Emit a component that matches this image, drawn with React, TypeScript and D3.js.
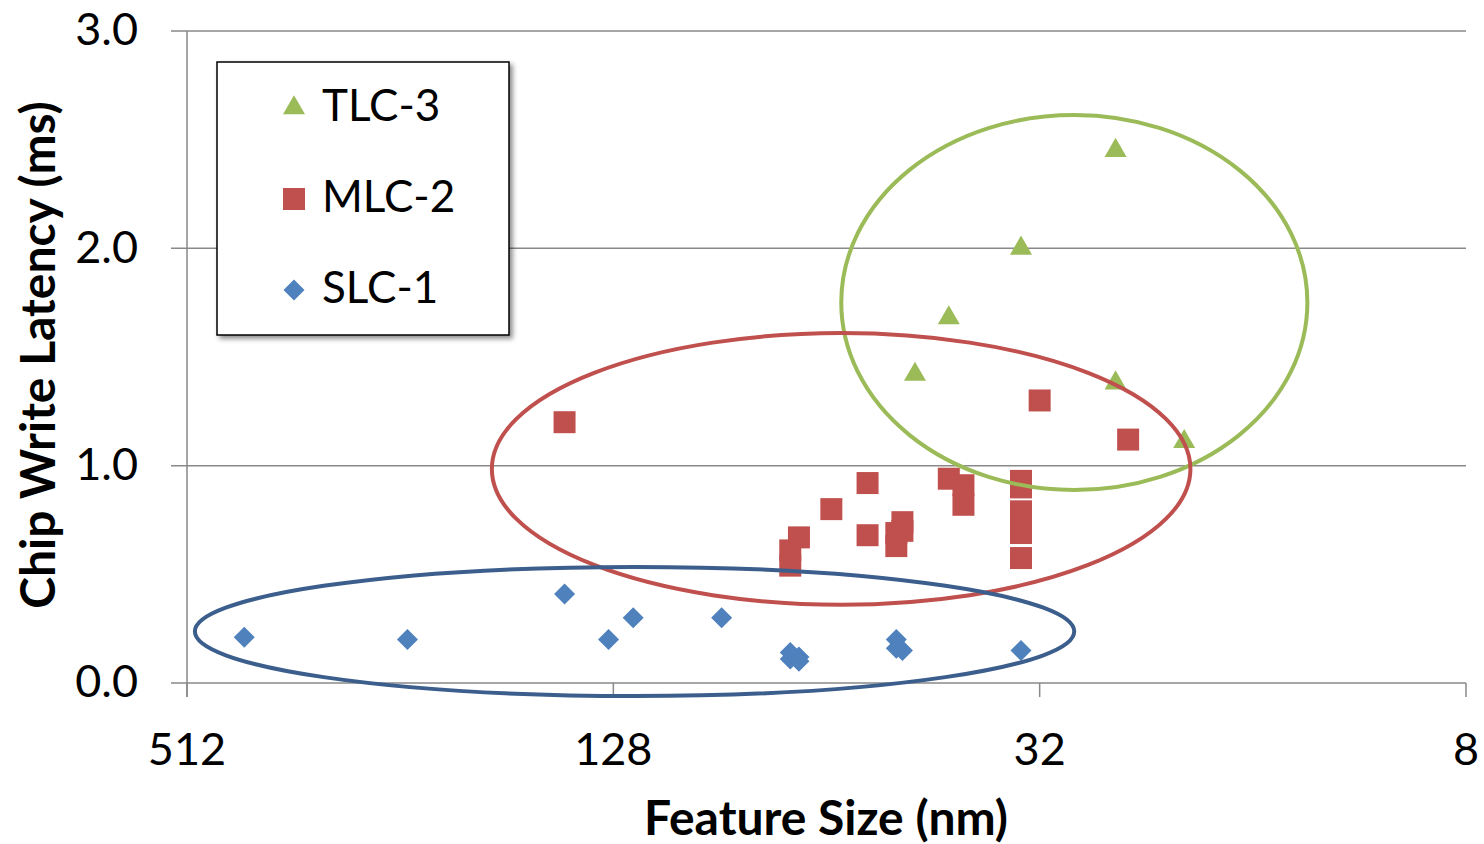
import React from "react";
import * as d3 from "d3";

const W = 1484;
const H = 844;

const xTicks = [512, 128, 32, 8];
const yTicks = [0, 1, 2, 3];
const yTickLabels = ["0.0", "1.0", "2.0", "3.0"];

const tlcX = [25, 34, 43, 48, 25, 20];
const tlcY = [2.45, 2.0, 1.68, 1.42, 1.38, 1.11];

const mlcX = [150, 32, 24, 56, 63, 56, 70, 72, 72, 50, 50, 51, 51, 43, 41, 41, 34, 34, 34, 34, 34, 34];
const mlcY = [1.2, 1.3, 1.12, 0.92, 0.8, 0.68, 0.67, 0.61, 0.54, 0.74, 0.7, 0.69, 0.63, 0.94, 0.91, 0.82, 0.93, 0.9, 0.79, 0.74, 0.69, 0.575];

const slcX = [425, 250, 150, 130, 120, 90, 72, 72, 70, 70, 51, 51, 50, 34];
const slcY = [0.21, 0.2, 0.41, 0.2, 0.3, 0.3, 0.14, 0.11, 0.12, 0.1, 0.2, 0.16, 0.15, 0.15];

const seriesNames = ["TLC-3", "MLC-2", "SLC-1"];
const seriesColors = ["#9BBB59", "#C0504D", "#4F81BD"];
const ellipseColors = ["#9BBB59", "#C0504D", "#3B5E8C"];

// ellipse extents in data units
const ellipseXLeft = [61, 190, 499];
const ellipseXRight = [13.4, 19.6, 28.6];
const ellipseYBottom = [0.888, 0.36, -0.06];
const ellipseYTop = [2.614, 1.61, 0.534];

const FONT = "Lato, 'Open Sans', sans-serif";

export default function App() {
  const left = 187, right = 1466, top = 31, bottom = 683;
  const x = d3.scaleLog().base(2).domain([512, 8]).range([left, right]);
  const y = d3.scaleLinear().domain([0, 3]).range([bottom, top]);

  const sym = (type: d3.SymbolType, size: number) => d3.symbol().type(type).size(size)() || "";
  const triPath = sym(d3.symbolTriangle, 210);
  const sqPath = sym(d3.symbolSquare, 484);
  const diaPath = (() => {
    const r = 10.5;
    return `M0,${-r}L${r},0L0,${r}L${-r},0Z`;
  })();

  const series = [
    { xs: tlcX, ys: tlcY, path: triPath, color: seriesColors[0] },
    { xs: mlcX, ys: mlcY, path: sqPath, color: seriesColors[1] },
    { xs: slcX, ys: slcY, path: diaPath, color: seriesColors[2] },
  ];

  const gridColor = "#898989";

  return (
    <svg width={W} height={H} style={{ position: "absolute", left: 0, top: 0, background: "#fff" }}>
      <defs>
        <filter id="shadow" x="-10%" y="-10%" width="130%" height="130%">
          <feDropShadow dx="3" dy="3" stdDeviation="2.5" floodColor="#000" floodOpacity="0.45" />
        </filter>
      </defs>
      {yTicks.filter((t) => t > 0).map((t) => (
        <line key={t} x1={left - 16} x2={right} y1={y(t)} y2={y(t)} stroke={gridColor} strokeWidth={1.5} />
      ))}
      <line x1={left} x2={left} y1={top} y2={bottom + 14} stroke={gridColor} strokeWidth={1.5} />
      <line x1={left - 16} x2={left} y1={y(0)} y2={y(0)} stroke={gridColor} strokeWidth={1.5} />
      <line x1={left} x2={right} y1={bottom} y2={bottom} stroke={gridColor} strokeWidth={1.5} />
      {xTicks.map((t) => (
        <line key={t} x1={x(t)} x2={x(t)} y1={bottom} y2={bottom + 14} stroke={gridColor} strokeWidth={1.5} />
      ))}
      {yTicks.map((t, i) => (
        <text key={t} x={138} y={y(t) + 3} textAnchor="end" dominantBaseline="middle" fontFamily={FONT} fontSize={45} fill="#000">
          {yTickLabels[i]}
        </text>
      ))}
      {xTicks.map((t) => (
        <text key={t} x={x(t)} y={765} textAnchor="middle" fontFamily={FONT} fontSize={45} fill="#000">
          {t}
        </text>
      ))}
      <text x={826} y={835} textAnchor="middle" fontFamily={FONT} fontWeight="bold" fontSize={48} fill="#000">
        Feature Size (nm)
      </text>
      <text transform="translate(55,355) rotate(-90)" textAnchor="middle" fontFamily={FONT} fontWeight="bold" fontSize={48} fill="#000">
        Chip Write Latency (ms)
      </text>
      {series.map((s, si) =>
        s.xs.map((xv, i) => (
          <path key={`${si}-${i}`} d={s.path} transform={`translate(${x(xv)},${y(s.ys[i])})`} fill={s.color} />
        ))
      )}
      {ellipseColors.map((c, i) => {
        const x0 = x(ellipseXLeft[i]);
        const x1 = x(ellipseXRight[i]);
        const y0 = y(ellipseYTop[i]);
        const y1 = y(ellipseYBottom[i]);
        return (
          <ellipse key={i} cx={(x0 + x1) / 2} cy={(y0 + y1) / 2} rx={(x1 - x0) / 2} ry={(y1 - y0) / 2} fill="none" stroke={c} strokeWidth={4} />
        );
      })}
      <rect x={217} y={62} width={292} height={273} fill="#fff" stroke="#000" strokeWidth={1.5} filter="url(#shadow)" />
      {seriesNames.map((n, i) => {
        const cy = 108 + i * 91;
        return (
          <g key={n}>
            <path d={series[i].path} transform={`translate(294,${cy})`} fill={series[i].color} />
            <text x={322} y={cy + 2} dominantBaseline="middle" fontFamily={FONT} fontSize={44} fill="#000">
              {n}
            </text>
          </g>
        );
      })}
    </svg>
  );
}
